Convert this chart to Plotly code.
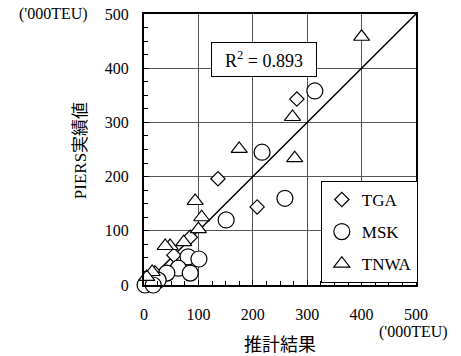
import plotly.graph_objects as go

# --- data ---
tga_x = [281, 136, 208, 20, 55, 85]
tga_y = [343, 196, 144, 22, 55, 88]

msk_x = [314, 217, 259, 151, 81, 101, 63, 85, 42, 26, 2, 17]
msk_y = [358, 245, 160, 120, 52, 48, 31, 22, 22, 9, 0, 0]

tnwa_x = [400, 273, 277, 175, 94, 106, 100, 48, 73, 39, 15, 5]
tnwa_y = [458, 310, 234, 251, 155, 125, 103, 72, 79, 72, 24, 15]

diag_x = [0, 500]
diag_y = [0, 500]

tick_vals = [0, 100, 200, 300, 400, 500]
r2_text = "R<sup>2</sup> = 0.893"

SERIF = "'Liberation Serif', 'Times New Roman', 'Noto Sans CJK JP', serif"

fig = go.Figure()

fig.add_trace(go.Scatter(x=diag_x, y=diag_y, mode="lines",
                         line=dict(color="black", width=1.5),
                         showlegend=False, hoverinfo="skip"))

common = dict(mode="markers", cliponaxis=False)
fig.add_trace(go.Scatter(x=tga_x, y=tga_y, name="TGA", legendgroup="a",
                         marker=dict(symbol="diamond", size=11, color="white",
                                     line=dict(color="black", width=1.2)), **common))
fig.add_trace(go.Scatter(x=msk_x, y=msk_y, name="MSK", legendgroup="b",
                         marker=dict(symbol="circle", size=16, color="white",
                                     line=dict(color="black", width=1.2)), **common))
fig.add_trace(go.Scatter(x=tnwa_x, y=tnwa_y, name="TNWA", legendgroup="c",
                         marker=dict(symbol="triangle-up", size=14, color="white",
                                     line=dict(color="black", width=1.2)), **common))

axis_common = dict(
    range=[0, 500], tickvals=tick_vals, showgrid=True, gridcolor="#555",
    gridwidth=1, zeroline=False, showline=True, linecolor="black", linewidth=2,
    mirror=True, ticks="inside", ticklen=5, tickcolor="black", automargin=False,
    minor=dict(dtick=25, ticks="inside", ticklen=4, tickcolor="black", showgrid=False),
    tickfont=dict(family=SERIF, size=16, color="black"),
)

fig.update_xaxes(**axis_common, ticklabelstandoff=14)
fig.update_yaxes(**axis_common, ticklabelstandoff=10)

fig.update_layout(
    width=461, height=356,
    margin=dict(l=144, r=45, t=14, b=71),
    plot_bgcolor="white", paper_bgcolor="white",
    font=dict(family=SERIF, color="black"),
    legend=dict(x=0.65, y=0.384, xanchor="left", yanchor="top",
                bordercolor="black", borderwidth=1, bgcolor="white",
                font=dict(family=SERIF, size=17, color="black"),
                tracegroupgap=7, itemwidth=30),
    annotations=[
        dict(text=r2_text, xref="paper", yref="paper", x=0.246, y=0.898,
             showarrow=False, font=dict(family=SERIF, size=18, color="black"),
             bordercolor="black", borderwidth=1, bgcolor="white",
             width=100, height=29, borderpad=2),
        dict(text="('000TEU)", xref="paper", yref="paper", x=-0.199, y=1.0,
             xanchor="right", yanchor="middle", showarrow=False,
             font=dict(family=SERIF, size=16, color="black")),
        dict(text="('000TEU)", xref="paper", yref="paper", x=0.989, y=-0.173,
             xanchor="center", yanchor="middle", showarrow=False,
             font=dict(family=SERIF, size=16, color="black")),
        dict(text="PIERS実績値", xref="paper", yref="paper", x=-0.235, y=0.494,
             xanchor="center", yanchor="middle", showarrow=False, textangle=-90,
             font=dict(family=SERIF, size=17, color="black")),
        dict(text="推計結果", xref="paper", yref="paper", x=0.5, y=-0.221,
             xanchor="center", yanchor="middle", showarrow=False,
             font=dict(family=SERIF, size=18, color="black")),
    ],
)

fig.write_html("out.html",
               config={"displayModeBar": False},
               post_script="document.body.style.margin='0';document.body.style.overflow='hidden';")
